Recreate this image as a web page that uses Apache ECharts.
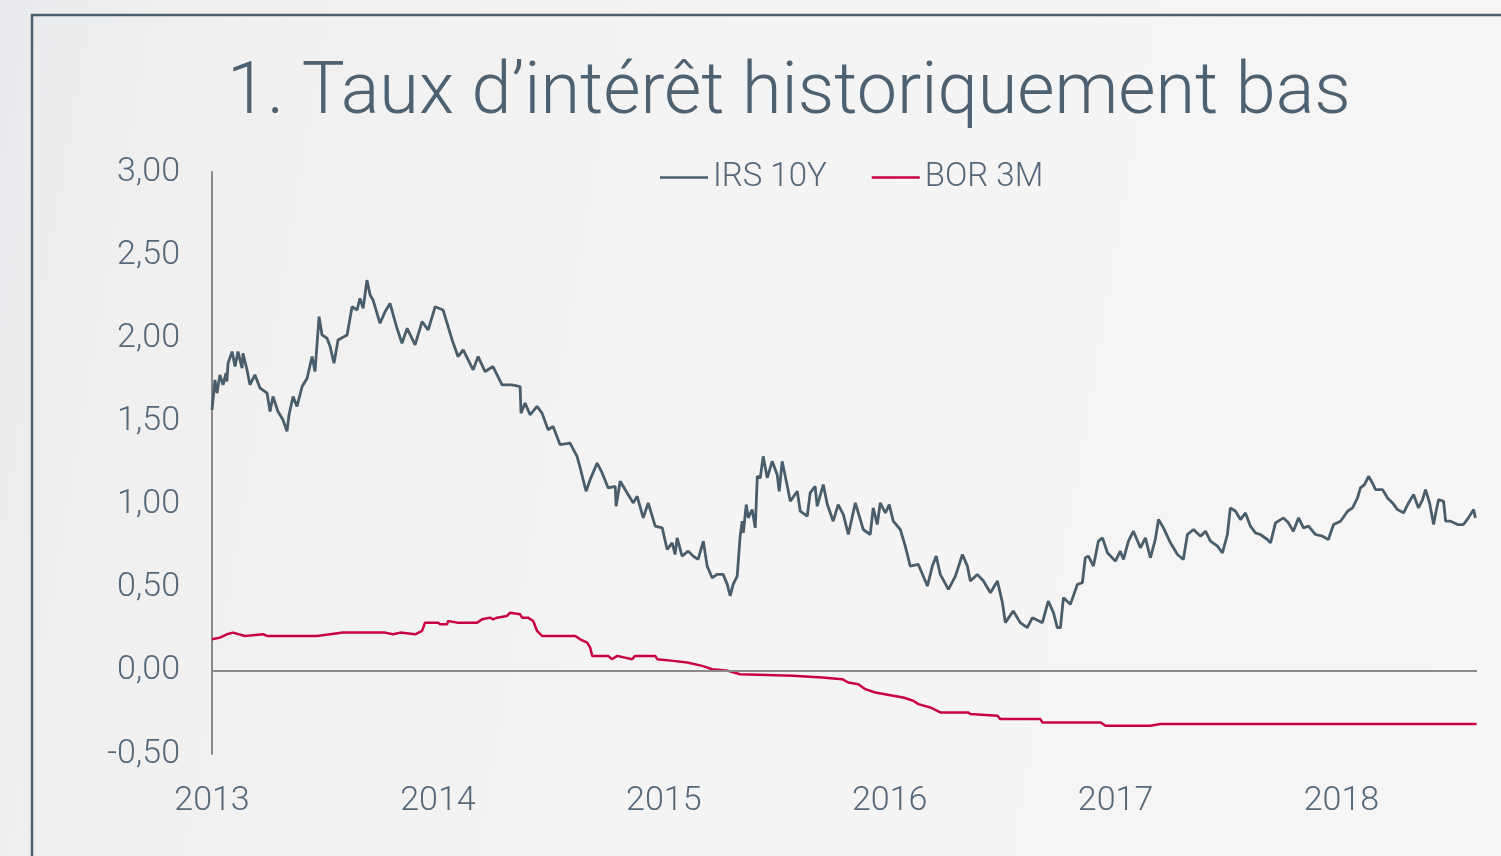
<!DOCTYPE html>
<html><head><meta charset="utf-8">
<script src="https://cdn.jsdelivr.net/npm/echarts@6/dist/echarts.min.js"></script>
<style>html,body{margin:0;padding:0;}#c{width:1501px;height:856px;}</style>
</head><body><div id="c"></div>
<script>
const titleText = '1. Taux d\u2019intérêt historiquement bas';
const seriesNames = ['IRS 10Y', 'BOR 3M'];
const yearTicks = [2013, 2014, 2015, 2016, 2017, 2018];
const yTicks = [-0.5, 0, 0.5, 1, 1.5, 2, 2.5, 3];

// IRS 10Y: time in decimal years, value in %
const irsTime = [2013.000,2013.013,2013.022,2013.035,2013.049,2013.062,2013.066,2013.071,2013.089,2013.102,2013.115,2013.133,2013.137,2013.155,2013.168,2013.190,2013.213,2013.244,2013.257,2013.270,2013.292,2013.314,2013.332,2013.341,2013.359,2013.376,2013.399,2013.421,2013.443,2013.456,2013.474,2013.487,2013.509,2013.523,2013.540,2013.558,2013.598,2013.620,2013.642,2013.655,2013.669,2013.686,2013.700,2013.713,2013.744,2013.766,2013.788,2013.819,2013.841,2013.864,2013.899,2013.930,2013.957,2013.988,2014.023,2014.063,2014.089,2014.112,2014.156,2014.178,2014.209,2014.244,2014.284,2014.329,2014.364,2014.368,2014.386,2014.408,2014.439,2014.461,2014.488,2014.510,2014.541,2014.585,2014.616,2014.630,2014.656,2014.674,2014.705,2014.727,2014.754,2014.785,2014.789,2014.807,2014.838,2014.865,2014.882,2014.909,2014.931,2014.962,2014.993,2015.015,2015.037,2015.050,2015.059,2015.081,2015.108,2015.130,2015.152,2015.175,2015.192,2015.214,2015.236,2015.263,2015.281,2015.294,2015.307,2015.325,2015.338,2015.347,2015.352,2015.365,2015.374,2015.391,2015.405,2015.414,2015.427,2015.440,2015.458,2015.480,2015.502,2015.511,2015.524,2015.547,2015.560,2015.591,2015.604,2015.635,2015.648,2015.670,2015.679,2015.706,2015.724,2015.750,2015.772,2015.795,2015.817,2015.848,2015.883,2015.914,2015.927,2015.945,2015.958,2015.981,2015.998,2016.016,2016.047,2016.069,2016.091,2016.127,2016.167,2016.189,2016.206,2016.224,2016.260,2016.291,2016.322,2016.344,2016.357,2016.388,2016.415,2016.446,2016.477,2016.499,2016.512,2016.547,2016.578,2016.609,2016.632,2016.676,2016.702,2016.725,2016.742,2016.756,2016.769,2016.800,2016.831,2016.853,2016.866,2016.880,2016.902,2016.924,2016.942,2016.964,2016.999,2017.021,2017.035,2017.057,2017.079,2017.110,2017.132,2017.154,2017.176,2017.190,2017.212,2017.243,2017.274,2017.300,2017.318,2017.345,2017.376,2017.398,2017.420,2017.451,2017.473,2017.495,2017.508,2017.531,2017.553,2017.575,2017.597,2017.619,2017.641,2017.672,2017.686,2017.708,2017.743,2017.765,2017.787,2017.810,2017.832,2017.854,2017.885,2017.916,2017.942,2017.965,2017.996,2018.027,2018.049,2018.071,2018.084,2018.102,2018.120,2018.137,2018.151,2018.182,2018.204,2018.226,2018.248,2018.275,2018.297,2018.319,2018.341,2018.359,2018.372,2018.390,2018.408,2018.416,2018.430,2018.452,2018.461,2018.483,2018.514,2018.540,2018.562,2018.585,2018.593];
const irsValue = [1.57,1.75,1.67,1.78,1.72,1.79,1.74,1.85,1.92,1.83,1.92,1.82,1.91,1.81,1.72,1.78,1.70,1.67,1.56,1.65,1.56,1.51,1.44,1.54,1.65,1.59,1.71,1.76,1.89,1.80,2.13,2.02,2.00,1.95,1.85,1.99,2.02,2.19,2.17,2.24,2.18,2.35,2.26,2.23,2.09,2.16,2.21,2.06,1.97,2.06,1.96,2.10,2.05,2.19,2.17,1.99,1.89,1.93,1.81,1.89,1.80,1.83,1.72,1.72,1.71,1.55,1.61,1.54,1.59,1.55,1.45,1.47,1.36,1.37,1.29,1.22,1.08,1.15,1.25,1.19,1.10,1.11,0.99,1.14,1.07,1.01,1.05,0.92,1.01,0.87,0.86,0.73,0.77,0.70,0.80,0.69,0.72,0.69,0.67,0.78,0.63,0.56,0.58,0.58,0.52,0.45,0.52,0.57,0.81,0.90,0.83,1.00,0.92,0.97,0.86,1.17,1.16,1.29,1.16,1.26,1.18,1.08,1.26,1.11,1.02,1.08,0.96,0.93,1.07,1.11,0.99,1.12,1.00,0.90,1.00,0.94,0.82,1.01,0.85,0.82,0.98,0.88,1.01,0.95,1.00,0.90,0.85,0.75,0.63,0.64,0.51,0.63,0.69,0.58,0.49,0.57,0.70,0.63,0.54,0.58,0.54,0.47,0.54,0.41,0.29,0.36,0.29,0.26,0.32,0.29,0.42,0.35,0.26,0.26,0.44,0.40,0.52,0.53,0.68,0.69,0.63,0.78,0.80,0.71,0.66,0.72,0.67,0.78,0.84,0.74,0.80,0.68,0.79,0.91,0.86,0.77,0.70,0.67,0.82,0.85,0.81,0.84,0.78,0.75,0.71,0.82,0.98,0.96,0.91,0.95,0.87,0.83,0.82,0.79,0.77,0.89,0.92,0.89,0.84,0.92,0.86,0.87,0.82,0.81,0.79,0.88,0.90,0.96,0.98,1.04,1.10,1.12,1.17,1.13,1.09,1.09,1.04,1.01,0.97,0.95,1.01,1.06,0.98,1.03,1.09,1.01,0.88,0.94,1.03,1.02,0.90,0.90,0.88,0.88,0.92,0.97,0.92];

// BOR 3M
const borTime = [2013.000,2013.035,2013.066,2013.093,2013.146,2013.226,2013.244,2013.465,2013.469,2013.580,2013.766,2013.802,2013.833,2013.899,2013.930,2013.943,2014.001,2014.010,2014.041,2014.045,2014.085,2014.174,2014.196,2014.231,2014.244,2014.262,2014.306,2014.320,2014.364,2014.373,2014.399,2014.422,2014.439,2014.461,2014.608,2014.630,2014.661,2014.674,2014.683,2014.754,2014.771,2014.794,2014.860,2014.873,2014.962,2014.971,2015.042,2015.104,2015.170,2015.214,2015.285,2015.338,2015.573,2015.701,2015.790,2015.817,2015.861,2015.892,2015.936,2016.016,2016.060,2016.104,2016.127,2016.180,2016.224,2016.348,2016.357,2016.477,2016.490,2016.667,2016.676,2016.933,2016.955,2017.154,2017.198,2017.818,2018.598];
const borValue = [0.19,0.20,0.22,0.23,0.21,0.22,0.21,0.21,0.22,0.23,0.23,0.22,0.23,0.22,0.24,0.29,0.29,0.28,0.28,0.30,0.29,0.29,0.31,0.32,0.31,0.32,0.33,0.35,0.34,0.32,0.32,0.30,0.24,0.21,0.21,0.19,0.17,0.14,0.09,0.09,0.07,0.09,0.07,0.09,0.09,0.07,0.06,0.05,0.03,0.01,0.00,-0.02,-0.03,-0.04,-0.05,-0.07,-0.08,-0.11,-0.13,-0.15,-0.16,-0.18,-0.20,-0.22,-0.25,-0.25,-0.26,-0.27,-0.29,-0.29,-0.31,-0.31,-0.33,-0.33,-0.32,-0.32,-0.32];

const pair = (t, v) => t.map((x, i) => [x, v[i]]);
const txt = '#55687a';
const font = 'Roboto, "Open Sans", sans-serif';

const chart = echarts.init(document.getElementById('c'), null, {renderer: 'canvas'});
chart.setOption({
  animation: false,
  backgroundColor: {
    type: 'linear', x: 0, y: 0, x2: 1, y2: 0.3,
    colorStops: [
      {offset: 0, color: '#e8eaed'},
      {offset: 0.12, color: '#f0f0f0'},
      {offset: 0.5, color: '#f4f4f4'},
      {offset: 1, color: '#f6f6f6'}
    ]
  },
  graphic: [{
    type: 'polyline', silent: true, z: 100,
    shape: {points: [[32, 860], [32, 15], [1505, 15]]},
    style: {stroke: '#4d6070', lineWidth: 2.5, fill: null}
  }],
  title: {
    text: titleText, left: 222, top: 54,
    textStyle: {fontFamily: font, fontWeight: 300, fontSize: 72, color: '#4e6171'}
  },
  legend: {
    data: seriesNames, left: 655, top: 156, itemWidth: 48, itemHeight: 2.5, itemGap: 45,
    icon: 'rect',
    textStyle: {fontFamily: font, fontWeight: 300, fontSize: 33, color: txt}
  },
  grid: {left: 212, right: 24, top: 172, bottom: 102, containLabel: false},
  xAxis: {
    type: 'value', min: 2013, max: 2018.6, interval: 1,
    axisLine: {show: false}, axisTick: {show: false}, splitLine: {show: false},
    axisLabel: {
      margin: 30, fontFamily: font, fontWeight: 300, fontSize: 34, color: txt,
      formatter: v => yearTicks.includes(Math.round(v * 1000) / 1000) ? String(v) : ''
    }
  },
  yAxis: {
    type: 'value', min: yTicks[0], max: yTicks[yTicks.length - 1], interval: 0.5,
    axisLine: {show: true, onZero: false, lineStyle: {color: '#8a8a8a', width: 2}},
    axisTick: {show: false}, splitLine: {show: false},
    axisLabel: {
      margin: 32, fontFamily: font, fontWeight: 300, fontSize: 34, color: txt,
      formatter: v => v.toFixed(2).replace('.', ',')
    }
  },
  series: [
    {
      name: seriesNames[0], type: 'line', data: pair(irsTime, irsValue), symbol: 'none',
      lineStyle: {color: '#4a5d6b', width: 2.8}, itemStyle: {color: '#4a5d6b'}, z: 3,
      markLine: {
        silent: true, symbol: 'none', label: {show: false},
        lineStyle: {color: '#8a8a8a', width: 2, type: 'solid'},
        data: [{yAxis: 0}]
      }
    },
    {
      name: seriesNames[1], type: 'line', data: pair(borTime, borValue), symbol: 'none',
      lineStyle: {color: '#c8003f', width: 2.5}, itemStyle: {color: '#c8003f'}, z: 4
    }
  ]
});
</script></body></html>
